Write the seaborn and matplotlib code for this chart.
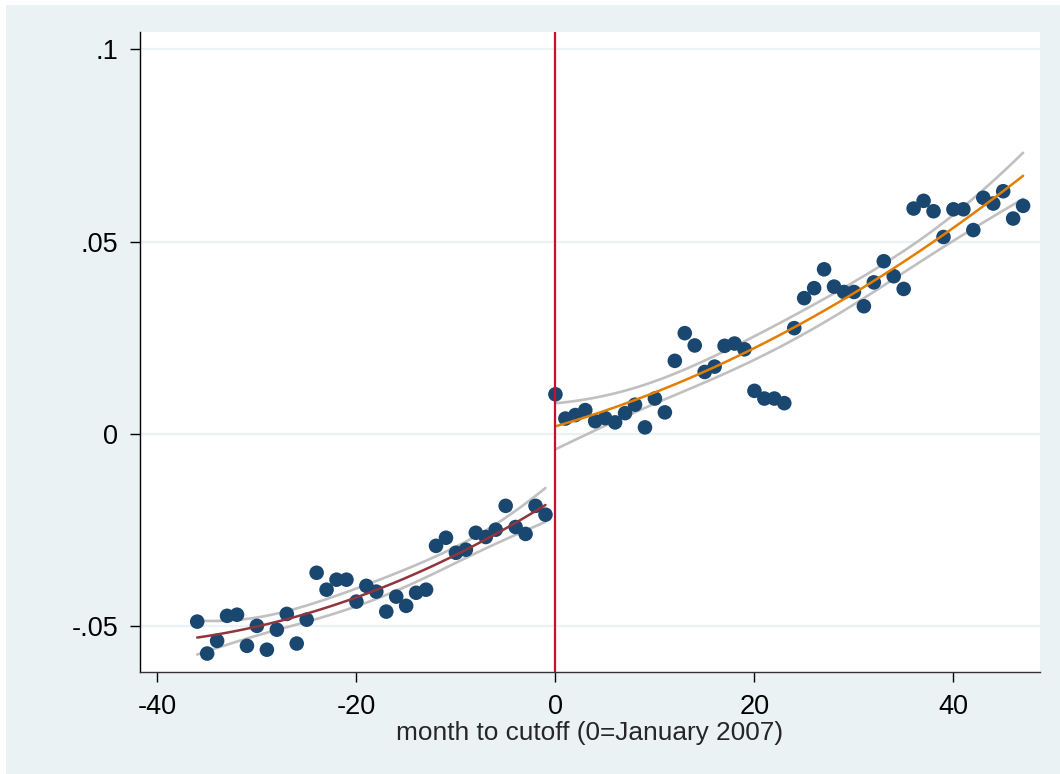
import numpy as np
import pandas as pd
import seaborn as sns
import matplotlib.pyplot as plt
from matplotlib.patches import Rectangle

# Monthly values: months before and after the cutoff
months_pre = list(range(-36, 0))
values_pre = [-0.0488, -0.0571, -0.0538, -0.0473, -0.0470, -0.0551, -0.0499, -0.0561,
              -0.0509, -0.0468, -0.0545, -0.0483, -0.0361, -0.0405, -0.0379, -0.0379,
              -0.0436, -0.0395, -0.0410, -0.0462, -0.0423, -0.0447, -0.0413, -0.0405,
              -0.0291, -0.0270, -0.0309, -0.0301, -0.0257, -0.0268, -0.0249, -0.0187,
              -0.0242, -0.0260, -0.0187, -0.0210]
months_post = list(range(0, 48))
values_post = [0.0103, 0.0040, 0.0049, 0.0062, 0.0033, 0.0041, 0.0030, 0.0054,
               0.0076, 0.0017, 0.0092, 0.0056, 0.0190, 0.0262, 0.0230, 0.0161,
               0.0175, 0.0229, 0.0235, 0.0220, 0.0112, 0.0092, 0.0092, 0.0080,
               0.0275, 0.0353, 0.0379, 0.0428, 0.0383, 0.0369, 0.0369, 0.0332,
               0.0394, 0.0449, 0.0410, 0.0377, 0.0586, 0.0606, 0.0579, 0.0512,
               0.0584, 0.0584, 0.0530, 0.0614, 0.0599, 0.0631, 0.0560, 0.0593]

y_ticks = [-0.05, 0, 0.05, 0.1]
y_tick_labels = ["-.05", "0", ".05", ".1"]
x_ticks = [-40, -20, 0, 20, 40]

df = pd.DataFrame({"month": months_pre + months_post,
                   "value": values_pre + values_post})


def qfit_ci(x, y, tval):
    # quadratic OLS fit with 95% CI of the mean prediction
    x = np.asarray(x, float)
    y = np.asarray(y, float)
    X = np.column_stack([np.ones_like(x), x, x ** 2])
    beta, *_ = np.linalg.lstsq(X, y, rcond=None)
    resid = y - X @ beta
    s2 = resid @ resid / (len(x) - 3)
    xtx_inv = np.linalg.inv(X.T @ X)
    g = np.linspace(x.min(), x.max(), 100)
    G = np.column_stack([np.ones_like(g), g, g ** 2])
    fit = G @ beta
    se = np.sqrt(np.einsum("ij,jk,ik->i", G, xtx_inv, G) * s2)
    return pd.DataFrame({"month": g, "fit": fit,
                         "lo": fit - tval * se, "hi": fit + tval * se})


fit_pre = qfit_ci(months_pre, values_pre, 2.035)
fit_post = qfit_ci(months_post, values_post, 2.014)

sns.set_style("white")
plt.rcParams['font.family'] = ['Liberation Sans', 'DejaVu Sans']

fig = plt.figure(figsize=(10.6, 7.74), dpi=100, facecolor="white")
# light blue-grey graph region (thin white strip on top and left)
bg = fig.add_axes([6 / 1060, -0.02, 1.0, 1 - 5 / 774 + 0.02], zorder=-10)
bg.set_axis_off()
bg.add_patch(Rectangle((0, 0), 1, 1, transform=bg.transAxes,
                       facecolor="#eaf2f3", edgecolor="none"))

ax = fig.add_axes([140 / 1060, 102 / 774, 900 / 1060, 640 / 774])
ax.set_facecolor("white")

for yt in y_ticks:
    ax.axhline(yt, color="#eaf2f3", lw=1.6, zorder=0)

# confidence bands drawn as lines, then fitted curves
for fr in [fit_pre, fit_post]:
    sns.lineplot(data=fr, x="month", y="lo", color="#c0c0c0", lw=1.9, ax=ax, zorder=2)
    sns.lineplot(data=fr, x="month", y="hi", color="#c0c0c0", lw=1.9, ax=ax, zorder=2)

sns.scatterplot(data=df, x="month", y="value", color="#1a476f", s=110,
                edgecolor="none", ax=ax, zorder=3)

sns.lineplot(data=fit_pre, x="month", y="fit", color="#90353b", lw=1.8, ax=ax, zorder=4)
sns.lineplot(data=fit_post, x="month", y="fit", color="#e37e00", lw=1.8, ax=ax, zorder=4)

ax.axvline(0, color="#c8102e", lw=1.6, zorder=5)

ax.set_xlim(-41.75, 48.7)
ax.set_ylim(-0.0619, 0.1045)
ax.set_xticks(x_ticks)
ax.set_xticklabels([str(t) for t in x_ticks])
ax.set_yticks(y_ticks)
ax.set_yticklabels(y_tick_labels)

for side in ["top", "right"]:
    ax.spines[side].set_visible(False)
ax.spines["left"].set_color("black")
ax.spines["bottom"].set_color("#333333")
ax.spines["left"].set_linewidth(1.0)
ax.spines["bottom"].set_linewidth(1.0)

ax.tick_params(axis="both", direction="out", length=7.5, width=1.0, color="black",
               labelsize=19.5, labelcolor="black", bottom=True, left=True)
ax.tick_params(axis="x", pad=8)
ax.tick_params(axis="y", pad=8)

ax.set_xlabel("month to cutoff (0=January 2007)", fontsize=18.9, labelpad=1)
ax.set_ylabel("")

fig.savefig("out.png", dpi=100, facecolor="white")
